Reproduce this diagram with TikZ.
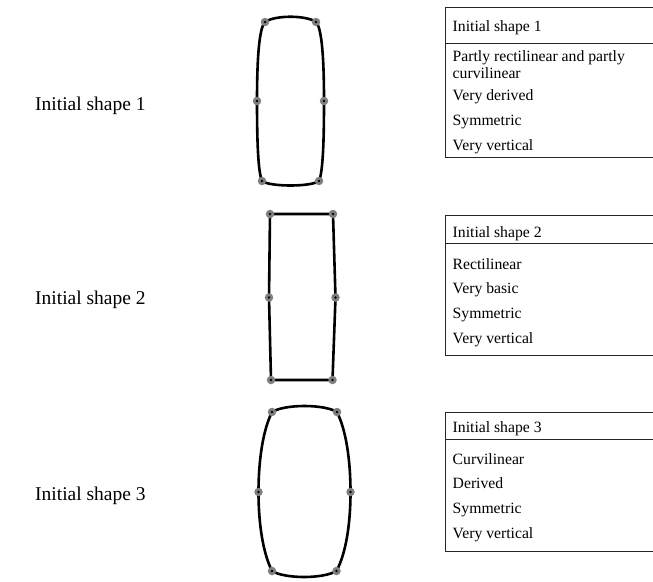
\documentclass[tikz,border=0pt]{standalone}
\usepackage{fontspec}
\setmainfont{Liberation Serif}
\begin{document}
\begin{tikzpicture}[x=1pt,y=-1pt,
  outline/.style={line width=2.6pt, black, line join=round},
  marker/.style={circle, fill=gray, draw=none, minimum size=8.5pt, inner sep=0pt},
  rule/.style={line width=1pt, black!85},
  lbl/.style={anchor=base west, inner sep=0pt, font=\fontsize{19.5}{23}\selectfont},
  cell/.style={anchor=base west, inner sep=0pt, font=\fontsize{15.7}{17}\selectfont}]
\useasboundingbox (0,0) rectangle (653,581);

% ---------- labels
\node[lbl] (l1) at (35,110) {Initial shape 1};
\node[lbl] (l2) at (35,304) {Initial shape 2};
\node[lbl] (l3) at (35,500) {Initial shape 3};

% ---------- shape 1
\coordinate (a1) at (265,22);
\coordinate (a2) at (316,22);
\coordinate (a3) at (324,101);
\coordinate (a4) at (319,181);
\coordinate (a5) at (262,181);
\coordinate (a6) at (257,101);
\draw[outline] (a1) .. controls (275,15) and (306,15) .. (a2)
  .. controls (322,28) and (324,60) .. (a3)
  .. controls (324,140) and (323,172) .. (a4)
  .. controls (311,187) and (270,187) .. (a5)
  .. controls (258,172) and (257,140) .. (a6)
  .. controls (257,60) and (259,28) .. (a1) -- cycle;

% ---------- shape 2
\coordinate (b1) at (270,214);
\coordinate (b2) at (333,214);
\coordinate (b3) at (335.5,297.5);
\coordinate (b4) at (332.5,380);
\coordinate (b5) at (271,380);
\coordinate (b6) at (269,297.5);
\draw[outline] (b1) -- (b2) -- (b3) -- (b4) -- (b5) -- (b6) -- cycle;

% ---------- shape 3
\coordinate (c1) at (272,412);
\coordinate (c2) at (337,412);
\coordinate (c3) at (350.5,492);
\coordinate (c4) at (336.5,571);
\coordinate (c5) at (272,571);
\coordinate (c6) at (258.5,492);
\draw[outline] (c1) .. controls (285,404) and (324,404) .. (c2)
  .. controls (346,430) and (350.5,460) .. (c3)
  .. controls (350.5,524) and (346,553) .. (c4)
  .. controls (323,579) and (285,579) .. (c5)
  .. controls (263,553) and (258.5,524) .. (c6)
  .. controls (258.5,460) and (263,430) .. (c1) -- cycle;

% ---------- markers
\foreach \p in {a1,a2,a3,a4,a5,a6,b1,b2,b3,b4,b5,b6,c1,c2,c3,c4,c5,c6}{
  \node[marker] (m\p) at (\p) {};
  \fill[black] (\p) circle (1.4pt);
}

% ---------- table 1
\draw[rule] (653,7) -- (445,7) -- (445,157) -- (653,157);
\draw[rule] (445,43) -- (653,43);
\node[cell] (t1h) at (452.5,31) {Initial shape 1};
\node[cell] (t1a) at (452.5,61) {Partly rectilinear and partly};
\node[cell] (t1b) at (452.5,78) {curvilinear};
\node[cell] (t1c) at (452.5,100) {Very derived};
\node[cell] (t1d) at (452.5,125) {Symmetric};
\node[cell] (t1e) at (452.5,150) {Very vertical};

% ---------- table 2
\draw[rule] (653,215) -- (445,215) -- (445,355) -- (653,355);
\draw[rule] (445,243) -- (653,243);
\node[cell] (t2h) at (452.5,237) {Initial shape 2};
\node[cell] (t2a) at (452.5,269.5) {Rectilinear};
\node[cell] (t2b) at (452.5,293.5) {Very basic};
\node[cell] (t2c) at (452.5,318.5) {Symmetric};
\node[cell] (t2d) at (452.5,343.5) {Very vertical};

% ---------- table 3
\draw[rule] (653,412) -- (445,412) -- (445,551) -- (653,551);
\draw[rule] (445,439) -- (653,439);
\node[cell] (t3h) at (452.5,432.5) {Initial shape 3};
\node[cell] (t3a) at (452.5,464.5) {Curvilinear};
\node[cell] (t3b) at (452.5,488.5) {Derived};
\node[cell] (t3c) at (452.5,513.5) {Symmetric};
\node[cell] (t3d) at (452.5,538.5) {Very vertical};
\end{tikzpicture}
\end{document}
